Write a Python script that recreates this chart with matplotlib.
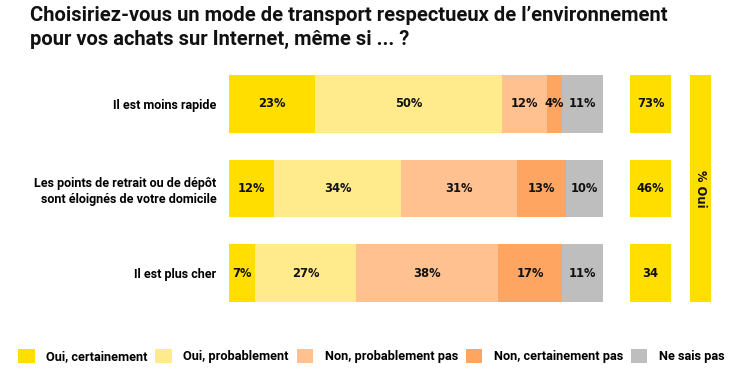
import numpy as np
import matplotlib
matplotlib.use("Agg")
import matplotlib.pyplot as plt
from matplotlib.patches import Patch

# data
questions = ["Il est moins rapide",
             "Les points de retrait ou de dépôt\nsont éloignés de votre domicile",
             "Il est plus cher"]
series = ["Oui, certainement", "Oui, probablement", "Non, probablement pas",
          "Non, certainement pas", "Ne sais pas"]
oui_certainement = [23, 12, 7]
oui_probablement = [50, 34, 27]
non_probablement = [12, 31, 38]
non_certainement = [4, 13, 17]
ne_sais_pas = [11, 10, 11]
total_oui = ["73%", "46%", "34"]

colors = ["#FFDE00", "#FFEB8C", "#FFC18F", "#FFA562", "#BEBEBE"]

plt.rcParams["font.family"] = ["Roboto", "DejaVu Sans"]
plt.rcParams["font.weight"] = "bold"
numfont = ["DejaVu Sans"]

fig = plt.figure(figsize=(7.4, 3.81), dpi=100)
W, H = 740, 381


def px_axes(x0, x1, y0, y1):
    return fig.add_axes([x0 / W, 1 - y1 / H, (x1 - x0) / W, (y1 - y0) / H])


ylim = (2.343, -0.343)
bh = 0.686
ypos = np.arange(len(questions))

# stacked bars
ax = px_axes(229, 603, 75, 302)
vals = [oui_certainement, oui_probablement, non_probablement, non_certainement, ne_sais_pas]
left = np.zeros(len(questions))
for v, c in zip(vals, colors):
    v = np.array(v)
    ax.barh(ypos, v, left=left, height=bh, color=c, edgecolor="none")
    for y, l, w in zip(ypos, left, v):
        ax.text(l + w / 2, y, f"{w}%", ha="center", va="center", family=numfont,
                fontsize=8.3, fontweight="bold", color="#111111")
    left += v
ax.set_xlim(0, 100)
ax.set_ylim(*ylim)
ax.set_yticks(ypos)
ax.set_yticklabels(questions, fontsize=9, fontweight="bold", linespacing=1.3)
ax.tick_params(axis="y", length=0, pad=9)
ax.set_xticks([])
for s in ax.spines.values():
    s.set_visible(False)

# total oui boxes
ax2 = px_axes(630, 671, 75, 302)
ax2.barh(ypos, [1] * len(ypos), height=bh, color=colors[0], edgecolor="none")
for y, t in zip(ypos, total_oui):
    ax2.text(0.5, y, t, ha="center", va="center", fontsize=8.3, fontweight="bold",
             family=numfont, color="#111111")
ax2.set_xlim(0, 1)
ax2.set_ylim(*ylim)
ax2.axis("off")

# vertical "% Oui" band
ax3 = px_axes(690, 711, 75, 302)
ax3.bar([0], [1], width=1, color=colors[0], edgecolor="none")
ax3.text(0, 0.5, "% Oui", rotation=-90, ha="center", va="center", fontsize=8.3,
         fontweight="bold", family=numfont, color="#111111")
ax3.set_xlim(-0.5, 0.5)
ax3.set_ylim(0, 1)
ax3.axis("off")

fig.text(30 / W, 1 - 6 / H,
         "Choisiriez-vous un mode de transport respectueux de l’environnement\n"
         "pour vos achats sur Internet, même si ... ?",
         ha="left", va="top", fontsize=14.5, fontweight="bold", color="#111111",
         linespacing=1.35)

handles = [Patch(facecolor=c, edgecolor="none") for c in colors]
fig.legend(handles, series, loc="center left", bbox_to_anchor=(18 / W, 1 - 356 / H),
           ncol=5, frameon=False, handlelength=1.3, handleheight=1.3,
           handletextpad=0.9, columnspacing=0.6, borderaxespad=0, borderpad=0,
           prop={"family": ["Roboto", "DejaVu Sans"], "weight": "bold", "size": 9.2})

fig.savefig("out.png", dpi=100)
